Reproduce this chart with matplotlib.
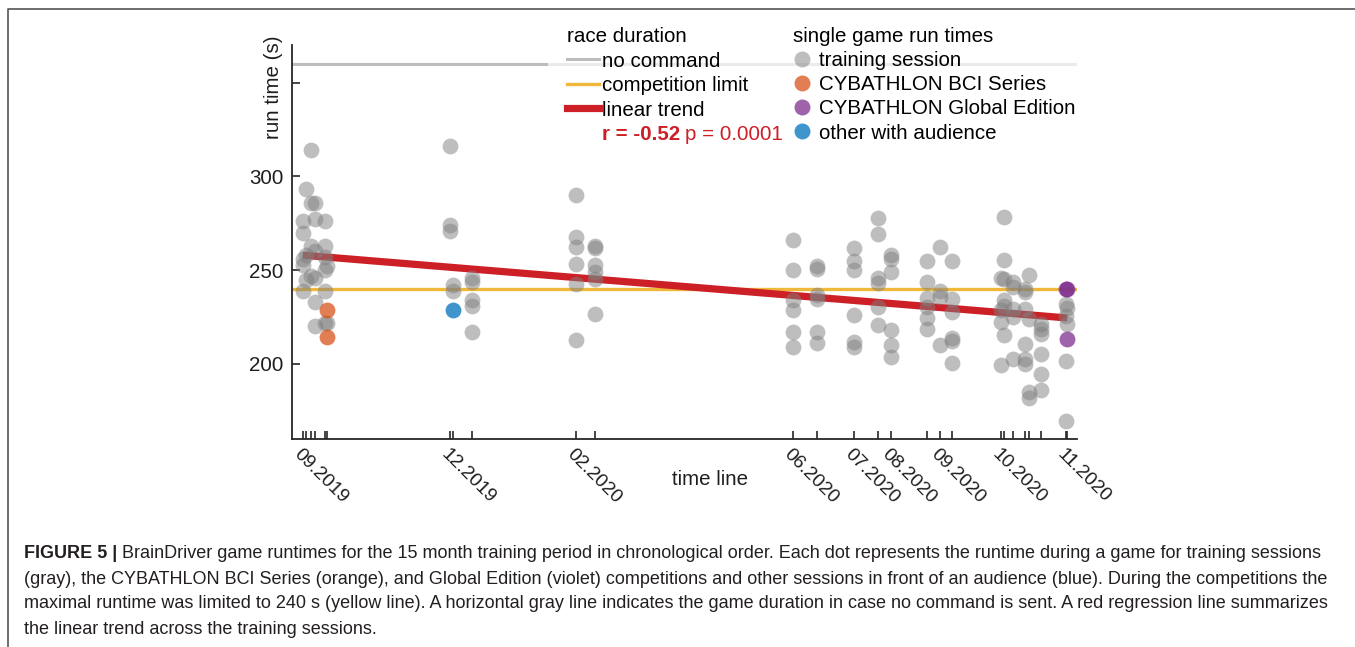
import numpy as np
import matplotlib
matplotlib.use("Agg")
import matplotlib.pyplot as plt
from matplotlib.lines import Line2D
from matplotlib.patches import Rectangle

# --- data (days counted from the first session) ---
session_days = [0, 2, 5, 7, 13, 14, 84, 86, 97, 156, 167, 280, 294, 315, 329,
                336, 357, 364, 371, 399, 401, 406, 413, 415, 422, 436, 437]

# training runs per session (seconds), same order as session_days
train_runs = [
    [276, 270, 256, 253, 239],
    [293, 258, 245],
    [314, 286, 263, 247],
    [286, 277, 260, 246, 233, 220],
    [276, 263, 257, 250, 239, 222],
    [252, 222],
    [316, 274, 271],
    [242, 239],
    [246, 243.5, 234, 231, 217],
    [290, 267.5, 262.5, 253.5, 242.5, 213],
    [263, 262, 252.5, 249, 245.5, 226.5],
    [266, 250, 234, 228.5, 217, 209],
    [252, 250.5, 236.5, 234.5, 217, 211],
    [262, 255, 250, 226, 211.5, 209],
    [278, 269, 246, 243, 230.5, 220.5],
    [258, 256, 249, 218, 210, 203.5],
    [255, 243.5, 235, 230.5, 224.5, 218.5],
    [262.5, 239, 235.5, 210],
    [255, 234.5, 227.5, 214, 212.5, 200.5],
    [246, 228.5, 222.5, 199.5],
    [278.5, 255.5, 245.5, 234, 231, 215.5],
    [243.5, 241, 229.5, 225, 202.5],
    [240, 238.5, 229.5, 210.5, 202.5, 200],
    [247.5, 224, 185, 182],
    [221.5, 218.5, 216, 205.5, 194.5, 186],
    [232, 225.5, 201.5, 169.5],
    [230, 221.5],
]

bci_day = [14, 14]
bci_time = [228.5, 214.5]
global_day = [436, 437, 437]
global_time = [240, 240, 213.5]
audience_day = [86]
audience_time = [228.5]

trend_days = [0, 437]
trend_time = [258, 224.5]
no_command = 360
comp_limit = 240

month_days = [0, 84, 156, 280, 315, 336, 364, 399, 436]
month_names = ["09.2019", "12.2019", "02.2020", "06.2020", "07.2020",
               "08.2020", "09.2020", "10.2020", "11.2020"]

caption_lines = [
    "BrainDriver game runtimes for the 15 month training period in chronological order. Each dot represents the runtime during a game for training sessions",
    "(gray), the CYBATHLON BCI Series (orange), and Global Edition (violet) competitions and other sessions in front of an audience (blue). During the competitions the",
    "maximal runtime was limited to 240 s (yellow line). A horizontal gray line indicates the game duration in case no command is sent. A red regression line summarizes",
    "the linear trend across the training sessions.",
]

# --- style ---
W, H = 1355, 647
plt.rcParams["font.family"] = ["Liberation Sans", "DejaVu Sans"]
fs = 14.8
ink = "#1e1e1e"
c_gray_line = "#bdbdbd"
c_yellow = "#efb83a"
c_red = "#cc1f26"
c_train = "#7f7f7f"
c_orange = "#d95319"
c_purple = "#7e2f8e"
c_blue = "#0072bd"

fig = plt.figure(figsize=(W / 100, H / 100), dpi=100)
ax = fig.add_axes([292 / W, 1 - 439 / H, (1077 - 292) / W, (439 - 45) / H])

ax.axhline(no_command, color=c_gray_line, lw=2.2, zorder=2)
ax.axhline(comp_limit, color=c_yellow, lw=2.4, zorder=2)
ax.plot(trend_days, trend_time, color=c_red, lw=5.2, solid_capstyle="butt", zorder=2)

tx = np.repeat(session_days, [len(r) for r in train_runs])
ty = np.concatenate([np.array(r, dtype=float) for r in train_runs])
ms2 = 130
ax.scatter(tx, ty, s=ms2, color=c_train, alpha=0.5, lw=0, zorder=3)
ax.scatter(bci_day, bci_time, s=ms2, color=c_orange, alpha=0.75, lw=0, zorder=4)
ax.scatter(global_day, global_time, s=ms2, color=c_purple, alpha=0.75, lw=0, zorder=4)
ax.scatter(audience_day, audience_time, s=ms2, color=c_blue, alpha=0.75, lw=0, zorder=4)

ax.set_xlim(-6.1, 442.5)
ax.set_ylim(160, 370)
ax.set_yticks([200, 250, 300, 350])
ax.set_yticklabels(["200", "250", "300", ""])
ax.set_xticks(session_days)
ax.set_xticklabels([month_names[month_days.index(d)] if d in month_days else ""
                    for d in session_days])
for lab in ax.get_xticklabels():
    lab.set_rotation(-45)
    lab.set_rotation_mode("anchor")
    lab.set_ha("left")
    lab.set_va("top")

ax.tick_params(axis="both", direction="in", length=6, width=1.2, color="#262626",
               labelsize=fs, labelcolor=ink)
ax.tick_params(axis="y", pad=6)
ax.tick_params(axis="x", pad=5, labelsize=13.8)
for side in ["top", "right"]:
    ax.spines[side].set_visible(False)
for side in ["left", "bottom"]:
    ax.spines[side].set_color("#262626")
    ax.spines[side].set_linewidth(1.3)

ax.set_ylabel("run time (s)", fontsize=fs, color=ink)
ax.yaxis.set_label_coords(-0.011, 0.893)
ax.set_xlabel("time line", fontsize=fs, color=ink)
ax.xaxis.set_label_coords(0.5325, -0.078)

# faded white behind the legend area
ax.add_patch(Rectangle(((548 - 292) / 785, 352), 1.0, 16, transform=ax.get_yaxis_transform(),
                       facecolor="white", alpha=0.7, edgecolor="none", zorder=4, clip_on=False))

h1 = [Line2D([], [], color=c_gray_line, lw=2.2),
      Line2D([], [], color=c_yellow, lw=2.4),
      Line2D([], [], color=c_red, lw=5.2)]
leg1 = ax.legend(h1, ["no command", "competition limit", "linear trend"], title="race duration",
                 loc="upper left", bbox_to_anchor=(567 / W, 1 - 27 / H), bbox_transform=fig.transFigure,
                 frameon=False, borderpad=0, borderaxespad=0, handlelength=1.55, handletextpad=0.15,
                 labelspacing=0.27, fontsize=fs, title_fontsize=fs, alignment="left")
ax.add_artist(leg1)

h2 = [Line2D([], [], marker="o", ls="none", ms=11.5, mfc=c, mec="none", alpha=a)
      for c, a in [(c_train, 0.5), (c_orange, 0.75), (c_purple, 0.75), (c_blue, 0.75)]]
leg2 = ax.legend(h2, ["training session", "CYBATHLON BCI Series", "CYBATHLON Global Edition",
                      "other with audience"], title="single game run times",
                 loc="upper left", bbox_to_anchor=(793 / W, 1 - 27 / H), bbox_transform=fig.transFigure,
                 frameon=False, borderpad=0, borderaxespad=0, handlelength=0.87, handletextpad=0.39,
                 labelspacing=0.25, fontsize=fs, title_fontsize=fs, alignment="left")

# r / p annotation
r_txt = fig.text(602 / W, 1 - 135 / H, "r = -0.52", fontsize=fs, weight="bold", color=c_red, va="center")
renderer = fig.canvas.get_renderer()
bb = r_txt.get_window_extent(renderer)
fig.text((bb.x1 + 5) / W, 1 - 135 / H, "p = 0.0001", fontsize=fs, color=c_red, va="center")

# caption
cap_fs = 13.0
cap_col = "#231f20"
b_txt = fig.text(24 / W, 1 - 554 / H, "FIGURE 5 |", fontsize=cap_fs, weight="bold", color=cap_col, va="center")
bb = b_txt.get_window_extent(renderer)
fig.text((bb.x1 + 5) / W, 1 - 554 / H, caption_lines[0], fontsize=cap_fs, color=cap_col, va="center")
for i, line in enumerate(caption_lines[1:]):
    fig.text(24 / W, 1 - (579 + 25 * i) / H, line, fontsize=cap_fs, color=cap_col, va="center")

# page frame (left and top rules)
fig.add_artist(Line2D([8 / W, 8 / W, 1], [0, 1 - 8.5 / H, 1 - 8.5 / H], transform=fig.transFigure,
                      color="#555555", lw=1.2))

fig.savefig("out.png", dpi=100)
